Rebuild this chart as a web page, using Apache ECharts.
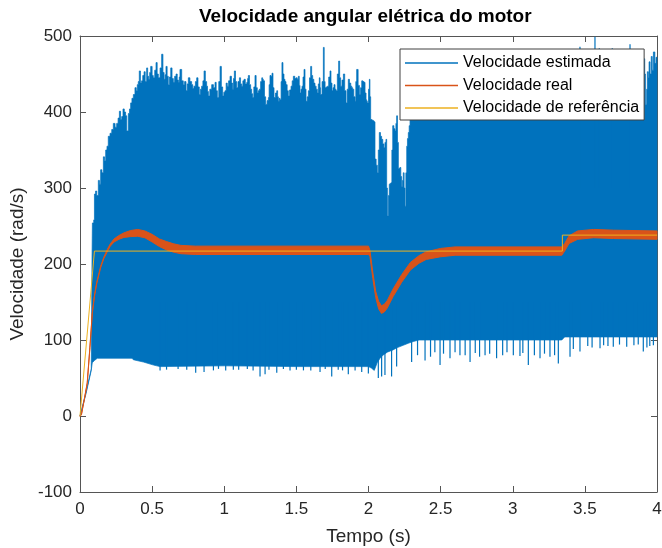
<!DOCTYPE html>
<html><head><meta charset="utf-8">
<script src="https://cdn.jsdelivr.net/npm/echarts@6/dist/echarts.min.js"></script>
<style>html,body{margin:0;padding:0;background:#fff}#c{width:662px;height:548px}</style>
</head><body><div id="c"></div>
<script>
// ---- text ----
const titleText = 'Velocidade angular elétrica do motor';
const xName = 'Tempo (s)';
const yName = 'Velocidade (rad/s)';
const seriesNames = ['Velocidade estimada', 'Velocidade real', 'Velocidade de referência'];
// ---- axis ranges [min, max, interval] ----
const xRange = [0, 4, 0.5];
const yRange = [-100, 500, 100];

// ---- estimated velocity: upper envelope [t, v] ----
const estUpper = [[0,0],[0.04,30],[0.078,62],[0.083,200],[0.086,254],[0.095,258],[0.1,292],[0.108,296],[0.116,290],[0.127,310],[0.135,305],[0.143,324],[0.152,320],[0.162,341],[0.17,336],[0.178,350],[0.187,355],[0.196,368],[0.208,372],[0.22,377],[0.231,385],[0.243,380],[0.254,385],[0.264,392],[0.273,401],[0.281,390],[0.289,394],[0.298,404],[0.307,400],[0.316,395],[0.324,375],[0.335,398],[0.343,404],[0.351,412],[0.36,418],[0.37,423],[0.381,432],[0.39,428],[0.397,436],[0.404,440],[0.411,454],[0.419,438],[0.427,441],[0.435,448],[0.444,453],[0.452,440],[0.462,458],[0.469,447],[0.476,443],[0.483,452],[0.49,460],[0.5,448],[0.508,445],[0.518,455],[0.527,465],[0.535,450],[0.543,445],[0.555,458],[0.566,476],[0.575,452],[0.583,443],[0.59,449],[0.596,460],[0.604,447],[0.612,436],[0.62,446],[0.629,458],[0.638,444],[0.647,439],[0.656,447],[0.666,450],[0.674,442],[0.682,439],[0.688,446],[0.693,456],[0.705,441],[0.716,436],[0.725,440],[0.735,428],[0.743,437],[0.751,445],[0.762,440],[0.774,436],[0.782,431],[0.79,434],[0.8,440],[0.809,445],[0.818,433],[0.827,423],[0.835,430],[0.843,434],[0.852,441],[0.86,454],[0.869,440],[0.878,434],[0.884,427],[0.89,421],[0.9,430],[0.913,436],[0.925,432],[0.936,439],[0.944,428],[0.952,419],[0.962,440],[0.971,460],[0.98,433],[0.989,421],[0.997,426],[1.005,428],[1.013,438],[1.021,434],[1.03,441],[1.04,447],[1.05,438],[1.058,430],[1.064,444],[1.07,454],[1.078,440],[1.086,432],[1.095,440],[1.105,445],[1.113,437],[1.121,434],[1.129,441],[1.137,443],[1.146,437],[1.156,439],[1.162,444],[1.167,448],[1.175,436],[1.183,430],[1.19,424],[1.197,419],[1.205,433],[1.213,448],[1.221,432],[1.229,425],[1.236,428],[1.243,430],[1.252,440],[1.26,445],[1.266,443],[1.271,441],[1.279,420],[1.287,410],[1.297,415],[1.306,419],[1.311,436],[1.317,448],[1.324,447],[1.331,451],[1.338,432],[1.345,419],[1.355,425],[1.364,428],[1.37,420],[1.375,414],[1.381,418],[1.387,416],[1.394,440],[1.4,465],[1.407,450],[1.414,443],[1.421,440],[1.428,436],[1.436,428],[1.444,421],[1.453,429],[1.463,434],[1.471,441],[1.479,447],[1.489,444],[1.498,445],[1.506,443],[1.514,447],[1.52,435],[1.525,425],[1.532,430],[1.539,434],[1.546,446],[1.553,456],[1.56,430],[1.567,414],[1.575,420],[1.583,428],[1.591,445],[1.599,460],[1.606,448],[1.613,443],[1.621,438],[1.629,434],[1.637,430],[1.645,425],[1.652,437],[1.659,445],[1.664,432],[1.668,423],[1.678,440],[1.687,485],[1.693,440],[1.699,432],[1.707,433],[1.715,434],[1.724,446],[1.733,454],[1.74,438],[1.747,428],[1.754,432],[1.761,436],[1.768,430],[1.775,428],[1.784,450],[1.793,467],[1.8,445],[1.807,434],[1.816,442],[1.826,450],[1.835,428],[1.844,412],[1.852,430],[1.86,443],[1.868,438],[1.877,434],[1.884,432],[1.89,430],[1.898,420],[1.907,414],[1.912,440],[1.918,456],[1.928,435],[1.937,423],[1.945,432],[1.953,441],[1.961,440],[1.969,439],[1.976,425],[1.983,416],[1.988,414],[1.992,412],[2.0,430],[2.006,443],[2.01,420],[2.015,390],[2.025,389],[2.034,388],[2.04,387],[2.045,338],[2.053,330],[2.061,320],[2.068,350],[2.075,373],[2.083,368],[2.091,364],[2.099,358],[2.107,353],[2.114,360],[2.121,364],[2.126,300],[2.131,263],[2.138,290],[2.144,305],[2.15,306],[2.156,307],[2.162,350],[2.168,382],[2.176,378],[2.184,375],[2.19,385],[2.195,395],[2.201,360],[2.207,325],[2.212,326],[2.218,327],[2.224,315],[2.23,302],[2.236,310],[2.241,320],[2.247,300],[2.253,276],[2.259,320],[2.265,355],[2.27,365],[2.276,373],[2.282,382],[2.288,390],[2.297,390],[2.306,390],[2.314,392],[2.322,395],[2.34,440],[2.36,455],[2.38,430],[2.4,448],[2.42,460],[2.46,438],[2.5,452],[2.54,443],[2.58,465],[2.62,440],[2.66,450],[2.7,436],[2.74,458],[2.78,445],[2.82,462],[2.86,440],[2.9,455],[2.94,447],[2.98,468],[3.02,442],[3.06,452],[3.1,438],[3.14,460],[3.18,446],[3.22,456],[3.26,441],[3.3,463],[3.34,450],[3.38,470],[3.42,458],[3.46,475],[3.5,465],[3.54,478],[3.58,468],[3.62,476],[3.66,462],[3.7,480],[3.74,467],[3.78,474],[3.82,465],[3.86,478],[3.9,470],[3.915,450],[3.92,410],[3.928,430],[3.933,453],[3.94,445],[3.945,466],[3.952,450],[3.96,473],[3.967,455],[3.975,479],[3.985,464],[3.993,472],[4.0,468]];
// ---- estimated velocity: lower envelope [t, v] ----
const estLower = [[0,0],[0.04,28],[0.078,60],[0.085,70],[0.1,73],[0.12,76],[0.36,76],[0.37,74],[0.44,71],[0.51,67],[0.555,65],[1.0,66],[1.5,65],[2.0,65],[2.02,63],[2.04,60],[2.06,70],[2.08,76],[2.1,80],[2.13,84],[2.17,87],[2.2,90],[2.24,93],[2.28,96],[2.31,98],[2.35,100],[3.34,100],[3.36,104],[4.0,104]];
// ---- isolated spikes of the estimate [t, v] ----
const estUpperSpikes = [[3.466,486],[3.57,499],[3.6,484],[3.69,484],[3.813,489]];
const estLowerSpikes = [[0.555,60],[0.6,61],[0.68,62],[0.74,61],[0.802,57],[0.86,58],[0.925,60],[0.96,62],[1.01,60],[1.063,61],[1.1,61],[1.16,62],[1.2,60],[1.248,52],[1.283,55],[1.31,61],[1.364,57],[1.41,62],[1.456,60],[1.5,61],[1.549,60],[1.6,60],[1.664,58],[1.7,62],[1.745,52],[1.79,61],[1.82,60],[1.86,55],[1.907,60],[1.953,58],[1.999,56],[2.068,50],[2.091,52],[2.114,54],[2.16,52],[2.195,65],[2.299,71],[2.34,80],[2.392,73],[2.43,78],[2.46,84],[2.496,67],[2.52,82],[2.565,76],[2.6,84],[2.634,80],[2.67,80],[2.704,71],[2.74,83],[2.77,78],[2.808,80],[2.84,82],[2.888,76],[2.93,80],[2.96,84],[3.004,80],[3.05,79],[3.07,83],[3.108,67],[3.15,80],[3.189,76],[3.22,82],[3.258,78],[3.29,80],[3.316,69],[3.397,78],[3.42,88],[3.466,85],[3.52,92],[3.55,90],[3.605,89],[3.63,93],[3.66,92],[3.697,91],[3.74,94],[3.79,91],[3.84,93],[3.87,94],[3.905,85],[3.93,90],[3.95,92],[3.975,93]];

// ---- real velocity [t, centre, half ripple] ----
const realVel = [[0,0,0.5],[0.01,2,0.5],[0.03,22,0.5],[0.05,43,0.8],[0.069,91,1],[0.085,135,1],[0.1,158,1],[0.116,175,1],[0.143,196,1],[0.165,208,1],[0.19,218,1.5],[0.21,225,1.5],[0.236,231,2],[0.27,235,2.5],[0.305,238,3],[0.35,240,4],[0.4,241,4.5],[0.45,239,4.5],[0.5,234,5],[0.55,228,5],[0.6,224,5.5],[0.65,221,5.5],[0.7,219,5.5],[0.8,218,5.5],[2.0,218,5.5],[2.01,214,4],[2.03,185,4],[2.05,160,4],[2.07,146,5],[2.09,140,5],[2.11,142,5],[2.13,147,5],[2.17,162,5],[2.23,181,5],[2.29,197,5],[2.35,206,5],[2.4,211,5],[2.5,215,5.5],[2.6,217,5.5],[3.34,217,5.5],[3.36,222,5],[3.39,232,5],[3.45,238,5.5],[3.56,240,5.5],[3.7,239,5.5],[4.0,238,5.5]];

// ---- reference velocity ----
const refT = [0, 0.1, 3.344, 3.344, 4];
const refV = [0, 217, 217, 238, 238];

const C_EST = '#0072BD', C_REAL = '#D95319', C_REF = '#EDB120';
const AX = '#262626';

function renderEst(params, api) {
  const pts = [];
  for (let i = 0; i < estUpper.length; i++) {
    pts.push(api.coord(estUpper[i]));
    if (i < estUpper.length - 1 && estUpper[i][0] >= 0.085) {
      pts.push(api.coord([estUpper[i + 1][0], estUpper[i][1]]));
    }
  }
  for (let i = estLower.length - 1; i >= 0; i--) pts.push(api.coord(estLower[i]));
  const children = [{type: 'polygon', shape: {points: pts}, style: {fill: C_EST, stroke: C_EST, lineWidth: 0.7}}];
  estUpperSpikes.forEach(s => {
    const a = api.coord(s), b = api.coord([s[0], 300]);
    children.push({type: 'line', shape: {x1: a[0], y1: a[1], x2: b[0], y2: b[1]}, style: {stroke: C_EST, lineWidth: 1.2}});
  });
  estLowerSpikes.forEach(s => {
    const a = api.coord(s), b = api.coord([s[0], 150]);
    children.push({type: 'line', shape: {x1: a[0], y1: a[1], x2: b[0], y2: b[1]}, style: {stroke: C_EST, lineWidth: 1.2}});
  });
  return {type: 'group', children};
}
function renderReal(params, api) {
  const pts = [];
  realVel.forEach(r => pts.push(api.coord([r[0], r[1] + r[2]])));
  for (let i = realVel.length - 1; i >= 0; i--) pts.push(api.coord([realVel[i][0], realVel[i][1] - realVel[i][2]]));
  return {type: 'polygon', shape: {points: pts}, style: {fill: C_REAL, stroke: C_REAL, lineWidth: 1}};
}

const chart = echarts.init(document.getElementById('c'), null, {renderer: 'canvas'});
const axisCommon = {
  axisLine: {show: true, onZero: false, lineStyle: {color: '#555', width: 1}},
  axisTick: {show: true, inside: true, length: 6, lineStyle: {color: '#555'}},
  splitLine: {show: false}
};
chart.setOption({
  animation: false,
  textStyle: {fontFamily: 'Liberation Sans, Arial, Helvetica, sans-serif'},
  title: {
    text: titleText, left: 199, top: 7, padding: 0,
    textStyle: {fontSize: 19, fontWeight: 'bold', color: '#000'}
  },
  grid: {left: 80, right: 5, top: 36, bottom: 56, containLabel: false, outerBoundsMode: 'none'},
  legend: {
    orient: 'vertical', left: 400, top: 49,
    padding: [6, 5, 4, 5], itemGap: 6.5,
    itemWidth: 53, itemHeight: 1.5, icon: 'rect',
    backgroundColor: '#fff', borderColor: '#404040', borderWidth: 1,
    textStyle: {fontSize: 16, color: '#000'},
    data: [
      {name: seriesNames[0], itemStyle: {color: C_EST}},
      {name: seriesNames[1], itemStyle: {color: C_REAL}},
      {name: seriesNames[2], itemStyle: {color: C_REF}}
    ]
  },
  xAxis: [
    Object.assign({
      type: 'value', position: 'bottom', min: xRange[0], max: xRange[1], interval: xRange[2],
      name: xName, nameLocation: 'middle', nameGap: 35,
      nameTextStyle: {fontSize: 19, color: AX},
      axisLabel: {fontSize: 17, color: AX, margin: 9}
    }, axisCommon),
    Object.assign({
      type: 'value', position: 'top', min: xRange[0], max: xRange[1], interval: xRange[2],
      axisLabel: {show: false}
    }, axisCommon)
  ],
  yAxis: [
    Object.assign({
      type: 'value', position: 'left', min: yRange[0], max: yRange[1], interval: yRange[2],
      name: yName, nameLocation: 'middle', nameGap: 50,
      nameTextStyle: {fontSize: 19, color: AX},
      axisLabel: {fontSize: 17, color: AX, margin: 8}
    }, axisCommon),
    Object.assign({
      type: 'value', position: 'right', min: yRange[0], max: yRange[1], interval: yRange[2],
      axisLabel: {show: false}
    }, axisCommon)
  ],
  series: [
    {name: seriesNames[0], type: 'custom', xAxisIndex: 0, yAxisIndex: 0, renderItem: renderEst,
     itemStyle: {color: C_EST}, data: [[0, 0]], silent: true},
    {name: seriesNames[1], type: 'custom', xAxisIndex: 0, yAxisIndex: 0, renderItem: renderReal,
     itemStyle: {color: C_REAL}, data: [[0, 0]], silent: true},
    {name: seriesNames[2], type: 'line', xAxisIndex: 0, yAxisIndex: 0, showSymbol: false,
     lineStyle: {color: C_REF, width: 1}, itemStyle: {color: C_REF},
     data: refT.map((t, i) => [t, refV[i]])}
  ]
});
</script>
</body></html>
